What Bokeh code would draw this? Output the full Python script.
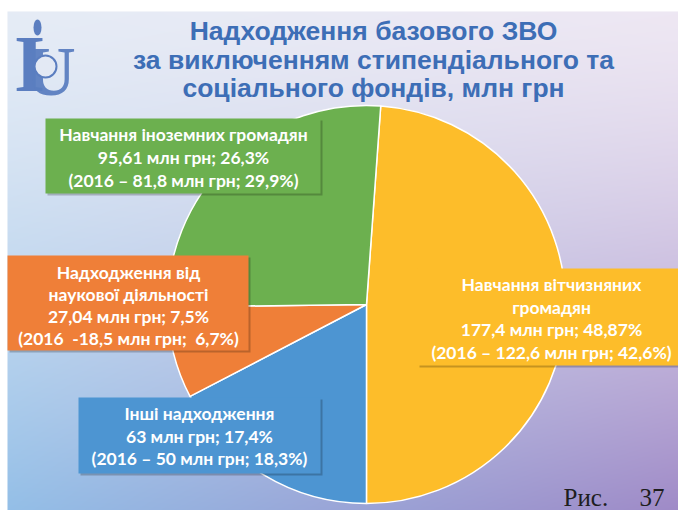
import numpy as np
from bokeh.plotting import figure
from bokeh.models import Range1d, ColumnDataSource
from bokeh.core.properties import value
from bokeh.embed import file_html
from bokeh.resources import INLINE

# ---------------- data ----------------
categories = ["Навчання вітчизняних громадян", "Інші надходження",
              "Надходження від наукової діяльності", "Навчання іноземних громадян"]
values_2017 = [177.4, 63.0, 27.04, 95.61]          # млн грн
shares_2017 = ["48,87%", "17,4%", "7,5%", "26,3%"]
values_2016 = ["122,6", "50", "18,5", "81,8"]
shares_2016 = ["42,6%", "18,3%", "6,7%", "29,9%"]
slice_colors = ["#fdbd2a", "#4d95d2", "#ef7f38", "#6cb04f"]

NB = "\u00a0"
label_lines = [
    ["Навчання вітчизняних", "громадян",
     f"{str(values_2017[0]).replace('.', ',')} млн грн; {shares_2017[0]}",
     f"(2016 – {values_2016[0]} млн грн; {shares_2016[0]})"],
    ["Інші надходження",
     f"{int(values_2017[1])} млн грн; {shares_2017[1]}",
     f"(2016 – {values_2016[1]} млн грн; {shares_2016[1]})"],
    ["Надходження від", "наукової діяльності",
     f"{str(values_2017[2]).replace('.', ',')} млн грн; {shares_2017[2]}",
     f"(2016{NB}{NB}-{values_2016[2]} млн грн;{NB}{NB}{shares_2016[2]})"],
    ["Навчання іноземних громадян",
     f"{str(values_2017[3]).replace('.', ',')} млн грн; {shares_2017[3]}",
     f"(2016 – {values_2016[3]} млн грн; {shares_2016[3]})"],
]
title_lines = ["Надходження базового ЗВО",
               "за виключенням стипендіального та",
               "соціального фондів, млн грн"]

# ---------------- layout (picture pixel coords, y down) ----------------
W, H = 678, 510
def Y(y_img):
    return H - y_img

p = figure(width=W, height=H, x_range=Range1d(0, W), y_range=Range1d(0, H),
           output_backend="svg", toolbar_location=None, min_border=0)
p.axis.visible = False
p.grid.visible = False
p.outline_line_color = None
p.background_fill_color = "white"
p.border_fill_color = "white"

# background gradient (slide area starts at x=7, y=11)
x0, ytop = 7, 11
nx, ny = W - x0, H - ytop
xs = x0 + np.arange(nx) + 0.5
ys_img = H - (np.arange(ny) + 0.5)
u = ((xs - 7) / 679)[None, :]
v = np.clip((ys_img - 11) / 507, 0, 1)[:, None] ** 1.35
TL = np.array([229, 236, 246]); TR = np.array([238, 231, 243])
BL = np.array([146, 190, 231]); BR = np.array([158, 136, 198])
col = ((1 - u)[..., None] * (1 - v)[..., None] * TL + u[..., None] * (1 - v)[..., None] * TR
       + (1 - u)[..., None] * v[..., None] * BL + u[..., None] * v[..., None] * BR)
img = np.empty((ny, nx), dtype=np.uint32)
view = img.view(dtype=np.uint8).reshape((ny, nx, 4))
view[..., 0] = col[..., 0].astype(np.uint8)
view[..., 1] = col[..., 1].astype(np.uint8)
view[..., 2] = col[..., 2].astype(np.uint8)
view[..., 3] = 255
p.image_rgba(image=[img], x=x0, y=0, dw=nx, dh=ny)

# logo (approximation)
p.ellipse(x=[37], y=[Y(27)], width=8, height=16, fill_color="#5b7ec0", line_color=None)
p.text(x=[29], y=[Y(63)], text=["I"], text_font=value("Liberation Serif"),
       text_font_style="bold", text_font_size="80px", text_color="#5b7ec0",
       text_align="center", text_baseline="middle")
p.text(x=[50], y=[Y(71)], text=["U"], text_font=value("Liberation Serif"),
       text_font_style="bold", text_font_size="70px", text_color="#5b7ec0",
       text_alpha=0.95, text_align="center", text_baseline="middle")
p.circle(x=[45], y=[Y(66)], radius=11, fill_color="#e3e9f4",
         line_color="#5b7ec0", line_width=2)

# title
title_y = [30, 59, 87]
p.text(x=[373] * 3, y=[Y(t) for t in title_y], text=title_lines,
       text_font=value("Liberation Sans"), text_font_style="bold",
       text_font_size="26.5px", text_color="#3d6eb6",
       text_align="center", text_baseline="middle")

# pie
cx, cy, r = 366, Y(304), 199
total = sum(values_2017)
start0 = np.deg2rad(85.9)
starts, ends = [], []
acc = 0.0
for v_ in values_2017:
    s = start0 - 2 * np.pi * acc / total
    acc += v_
    e = start0 - 2 * np.pi * acc / total
    starts.append(s); ends.append(e)
src = ColumnDataSource(dict(x=[cx] * 4, y=[cy] * 4, start=starts, end=ends,
                            color=slice_colors, cat=categories))
p.wedge(x="x", y="y", radius=r, start_angle="start", end_angle="end",
        direction="clock", fill_color="color", line_color="white",
        line_width=1.5, source=src)

# label boxes: (left, right, top, bottom, first line center y, spacing)
boxes = [
    (417, 685, 268, 365, 284, 22.5),
    (78, 320, 397, 473, 413, 22.5),
    (7, 248, 255, 350, 272, 22.0),
    (45, 320, 118, 193, 134, 23.0),
]
text_x = [551, 199, 128, 183]
for (l, rr, t, b, y0, dy), c, lines, xc in zip(boxes, slice_colors, label_lines, text_x):
    p.quad(left=[l + 2], right=[rr + 2], top=[Y(t + 2)], bottom=[Y(b + 2)],
           fill_color="black", fill_alpha=0.22, line_color=None)
    p.quad(left=[l], right=[rr], top=[Y(t)], bottom=[Y(b)],
           fill_color=c, line_color=None)
    ys = [Y(y0 + i * dy) for i in range(len(lines))]
    p.text(x=[xc] * len(lines), y=ys, text=lines, text_font=value("Lato"),
           text_font_style="bold", text_font_size="17.5px", text_color="white",
           text_align="center", text_baseline="middle")

# figure number
p.text(x=[563], y=[Y(497)], text=["Рис."], text_font=value("Liberation Serif"),
       text_font_size="25px", text_color="#1e1e1e", text_align="left",
       text_baseline="middle")
p.text(x=[664], y=[Y(497)], text=["37"], text_font=value("Liberation Serif"),
       text_font_size="25px", text_color="#1e1e1e", text_align="right",
       text_baseline="middle")

open("out.html", "w").write(file_html(p, INLINE))
